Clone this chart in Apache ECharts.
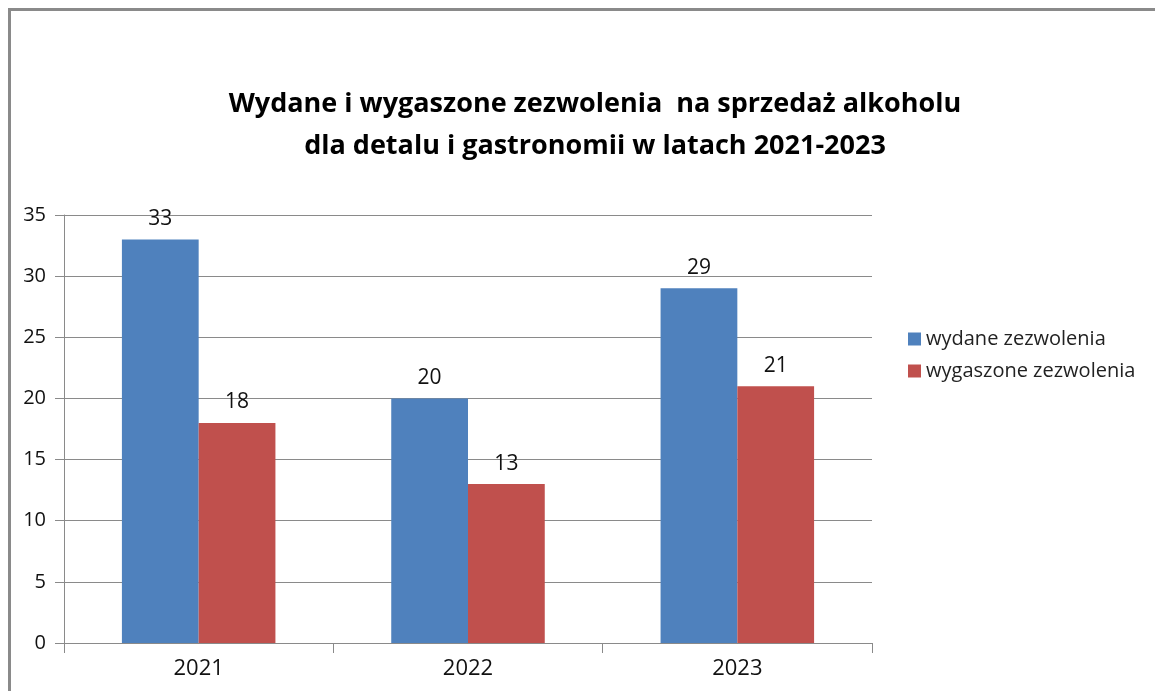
<!DOCTYPE html>
<html>
<head>
<meta charset="utf-8">
<script src="https://cdn.jsdelivr.net/npm/echarts@6/dist/echarts.min.js"></script>
<style>
  html, body { margin: 0; padding: 0; background: #fff; }
  #chart { width: 1155px; height: 691px; }
</style>
</head>
<body>
<div id="chart"></div>
<script>
// dane z wykresu
const years = ["2021", "2022", "2023"];
const wydane = [33, 20, 29];
const wygaszone = [18, 13, 21];
const seriesNames = ["wydane zezwolenia", "wygaszone zezwolenia"];

const chart = echarts.init(document.getElementById("chart"));
const fontFamily = "'Open Sans', 'Noto Sans', sans-serif";

const labelStyle = {
  show: true,
  position: "top",
  distance: 10,
  color: "#111",
  fontSize: 21,
  fontFamily: fontFamily,
};

chart.setOption({
  animation: false,
  textStyle: { fontFamily: fontFamily },
  // ramka wokół wykresu
  graphic: [
    {
      type: "rect",
      shape: { x: 9.5, y: 9.5, width: 1300, height: 900 },
      style: { fill: null, stroke: "#8a8a8a", lineWidth: 3 },
    },
  ],
  title: {
    text: "Wydane i wygaszone zezwolenia  na sprzedaż alkoholu\ndla detalu i gastronomii w latach 2021-2023",
    left: 590,
    textAlign: "center",
    top: 78,
    textStyle: {
      fontSize: 27,
      fontWeight: "bold",
      color: "#000",
      lineHeight: 42,
      fontFamily: fontFamily,
    },
  },
  legend: {
    orient: "vertical",
    left: 903,
    top: 324,
    itemWidth: 13,
    itemHeight: 13,
    itemGap: 12,
    icon: "rect",
    textStyle: { fontSize: 20, color: "#222", fontFamily: fontFamily },
    data: seriesNames,
  },
  grid: { left: 64, right: 283, top: 215, bottom: 48 },
  xAxis: {
    type: "category",
    data: years,
    axisLine: { lineStyle: { color: "#8a8a8a", width: 1 } },
    axisTick: { show: true, length: 10, lineStyle: { color: "#8a8a8a" } },
    axisLabel: { fontSize: 22, color: "#111", margin: 15 },
  },
  yAxis: {
    type: "value",
    min: 0,
    max: 35,
    interval: 5,
    axisLine: { show: true, lineStyle: { color: "#8a8a8a" } },
    axisTick: { show: true, length: 9, lineStyle: { color: "#8a8a8a" } },
    axisLabel: { fontSize: 20, color: "#111", margin: 18 },
    splitLine: { lineStyle: { color: "#8a8a8a", width: 1 } },
  },
  series: [
    {
      name: seriesNames[0],
      type: "bar",
      data: wydane,
      barGap: "0%",
      barCategoryGap: "43%",
      itemStyle: { color: "#4F81BD" },
      label: labelStyle,
    },
    {
      name: seriesNames[1],
      type: "bar",
      data: wygaszone,
      itemStyle: { color: "#C0504D" },
      label: labelStyle,
    },
  ],
});
</script>
</body>
</html>
